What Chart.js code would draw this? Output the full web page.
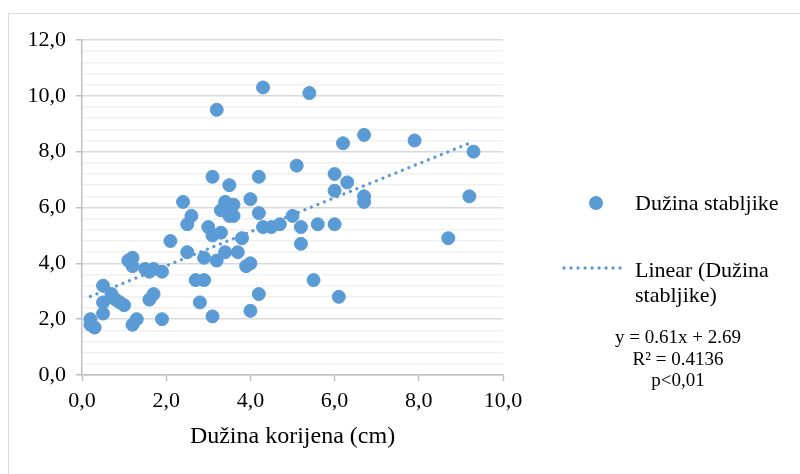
<!DOCTYPE html>
<html><head><meta charset="utf-8">
<script src="https://cdn.jsdelivr.net/npm/chart.js@4.4.1/dist/chart.umd.min.js"></script>
<style>
html,body{margin:0;padding:0;width:800px;height:474px;overflow:hidden;background:#fff;}
#frame{position:absolute;left:8px;top:13px;width:900px;height:600px;border:1.5px solid #d9d9d9;box-sizing:border-box;}
#c{position:absolute;left:0;top:0;}
.lg{position:absolute;font-family:'Liberation Serif','Times New Roman',serif;color:#000;white-space:nowrap;}
</style></head><body>
<div id="frame"></div>
<canvas id="c" width="800" height="474"></canvas>
<div class="lg" style="left:589px;top:196px;width:14px;height:14px;border-radius:50%;background:#5b9bd5"></div>
<div class="lg" id="leg1" style="left:635px;top:189px;font-size:22px;line-height:28px"></div>
<svg class="lg" style="left:560px;top:263px" width="70" height="10"><line x1="4" y1="5" x2="66" y2="5" stroke="#5b9bd5" stroke-width="3.3" stroke-linecap="round" stroke-dasharray="0.01 7"/></svg>
<div class="lg" id="leg2" style="left:635px;top:257px;font-size:22px;line-height:25px"></div>
<div class="lg" id="eq" style="left:578px;top:326px;width:200px;text-align:center;font-size:19px;line-height:21.5px"></div>
<script>
// ---- data ----
const rootLength = [0.2,0.2,0.3,0.5,0.5,0.5,0.7,0.8,0.9,1.0,1.1,1.2,1.2,1.2,1.3,1.5,1.6,1.7,1.9,1.6,1.7,1.9,2.1,2.4,2.5,2.5,2.6,2.7,2.8,2.9,2.9,3.0,3.1,3.1,3.1,3.2,3.2,3.3,3.3,3.4,3.4,3.5,3.5,3.5,3.6,3.6,3.7,3.8,3.9,4.0,4.0,4.0,4.2,4.2,4.2,4.3,4.3,4.5,4.7,5.0,5.1,5.2,5.2,5.4,5.5,5.6,6.0,6.0,6.0,6.1,6.2,6.3,6.7,6.7,6.7,7.9,8.7,9.2,9.3];
const stemLength = [2.0,1.8,1.7,3.2,2.6,2.2,2.9,2.7,2.6,2.5,4.1,4.2,3.9,1.8,2.0,3.8,3.7,3.8,3.7,2.7,2.9,2.0,4.8,6.2,5.4,4.4,5.7,3.4,2.6,3.4,4.2,5.3,7.1,5.0,2.1,9.5,4.1,5.9,5.1,6.2,4.4,6.8,5.9,5.7,6.1,5.7,4.4,4.9,3.9,4.0,6.3,2.3,7.1,5.8,2.9,10.3,5.3,5.3,5.4,5.7,7.5,5.3,4.7,10.1,3.4,5.4,7.2,6.6,5.4,2.8,8.3,6.9,8.6,6.4,6.2,8.4,4.9,6.4,8.0];
const seriesName = 'Dužina stabljike';
const trendName = 'Linear (Dužina<br>stabljike)';
const xAxisTitle = 'Dužina korijena (cm)';
const trendSlope = 0.61;
const trendIntercept = 2.69;
const rSquared = '0.4136';
const pText = 'p<0,01';
const xTicks = [0,2,4,6,8,10];
const yMajorTicks = [0,2,4,6,8,10,12];
const yMinorDivisions = 5;

document.getElementById('leg1').textContent = seriesName;
document.getElementById('leg2').innerHTML = trendName;
document.getElementById('eq').innerHTML = 'y = ' + trendSlope.toFixed(2) + 'x + ' + trendIntercept.toFixed(2) + '<br>R² = ' + rSquared + '<br>' + pText.replace('<','&lt;');

const points = rootLength.map((x,i)=>({x:x, y:stemLength[i]}));
const minX = Math.min(...rootLength), maxX = Math.max(...rootLength);
const trend = [{x:minX, y:trendSlope*minX+trendIntercept},{x:maxX, y:trendSlope*maxX+trendIntercept}];

const yTickVals = [];
for (let i=0;i<yMajorTicks.length-1;i++){
  const a=yMajorTicks[i], b=yMajorTicks[i+1];
  for (let k=0;k<yMinorDivisions;k++) yTickVals.push(+(a+(b-a)*k/yMinorDivisions).toFixed(4));
}
yTickVals.push(yMajorTicks[yMajorTicks.length-1]);
const isMajor = v => yMajorTicks.some(m=>Math.abs(m-v)<1e-6);
const fmt = v => Number(v).toFixed(1).replace('.',',');
const FONT = "'Liberation Serif','Times New Roman',serif";

new Chart(document.getElementById('c'), {
  type:'scatter',
  data:{datasets:[
    {label:seriesName, data:points, order:1, backgroundColor:'#5b9bd5', borderColor:'#5b9bd5', pointRadius:6.5, pointBorderWidth:1, pointHoverRadius:6.5},
    {label:'Linear', data:trend, order:2, showLine:true, pointRadius:0, borderColor:'#5b9bd5', borderWidth:3.3, borderDash:[0.01,7], borderCapStyle:'round', fill:false}
  ]},
  options:{
    responsive:false, animation:false, devicePixelRatio:1,
    layout:{padding:{left:0,right:297,top:40,bottom:0}},
    plugins:{legend:{display:false}, tooltip:{enabled:false}},
    events:[],
    scales:{
      x:{type:'linear', min:0, max:10,
        afterBuildTicks:s=>{s.ticks = xTicks.map(v=>({value:v}));},
        afterFit:s=>{s.height = 99;},
        ticks:{autoSkip:false, maxRotation:0, padding:7, color:'#000', font:{family:FONT,size:22}, callback:v=>fmt(v)},
        grid:{drawOnChartArea:false, drawTicks:true, tickLength:6, tickColor:'#bfbfbf', tickWidth:1.5},
        border:{color:'#bfbfbf', width:1.5},
        title:{display:true, text:xAxisTitle, color:'#000', font:{family:FONT,size:24}, padding:{top:0,bottom:22.6}}
      },
      y:{type:'linear', min:0, max:12,
        afterBuildTicks:s=>{s.ticks = yTickVals.map(v=>({value:v}));},
        afterFit:s=>{s.width = 82;},
        ticks:{autoSkip:false, padding:10, color:'#000', font:{family:FONT,size:22}, callback:v=>isMajor(v)?fmt(v):''},
        grid:{drawTicks:true, tickLength:6, lineWidth:1.5,
          color:c=>isMajor(c.tick.value)?'#d9d9d9':'#f0f0f0',
          tickColor:c=>isMajor(c.tick.value)?'#bfbfbf':'rgba(0,0,0,0)', tickWidth:1.5},
        border:{color:'#bfbfbf', width:1.5}
      }
    }
  }
});
</script>
</body></html>
